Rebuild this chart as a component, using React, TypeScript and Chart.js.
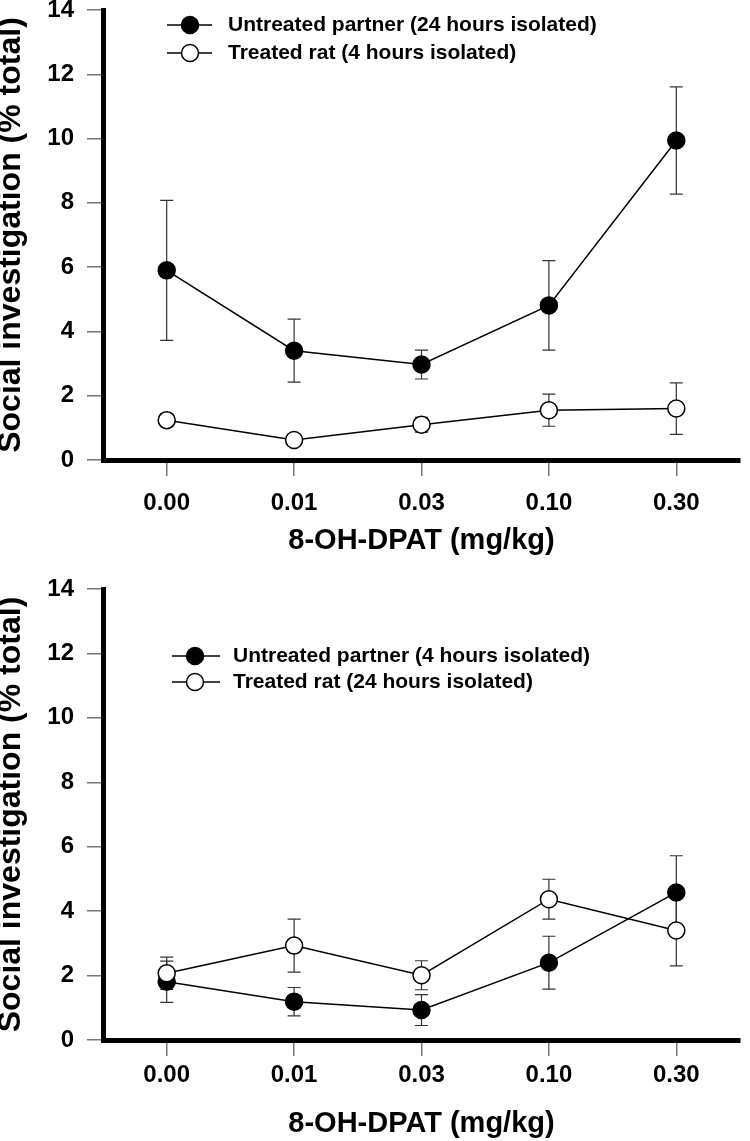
import React, { useEffect, useRef } from "react";
import { Chart, registerables } from "chart.js";

Chart.register(...registerables);

// ---------- data ----------
const doses = ["0.00", "0.01", "0.03", "0.10", "0.30"];
const yMin = 0;
const yMax = 14;
const yStep = 2;

const xTitle = "8-OH-DPAT (mg/kg)";
const yTitle = "Social investigation (% total)";

// top panel
const topUntreated = [5.9, 3.4, 2.97, 4.81, 9.94];
const topUntreatedErr = [2.18, 0.98, 0.45, 1.39, 1.67];
const topTreated = [1.24, 0.62, 1.1, 1.55, 1.6];
const topTreatedErr = [0.2, 0.15, 0.23, 0.5, 0.8];
const topLegend = ["Untreated partner (24 hours isolated)", "Treated rat (4 hours isolated)"];

// bottom panel
const botUntreated = [1.81, 1.19, 0.93, 2.4, 4.58];
const botUntreatedErr = [0.64, 0.44, 0.48, 0.82, 1.14];
const botTreated = [2.07, 2.93, 2.01, 4.37, 3.4];
const botTreatedErr = [0.5, 0.82, 0.45, 0.62, 1.1];
const botLegend = ["Untreated partner (4 hours isolated)", "Treated rat (24 hours isolated)"];

const FONT = "'Liberation Sans', Arial, Helvetica, sans-serif";

type PanelCfg = {
  height: number;
  padTop: number;
  axisHeight: number;
  tickPad: number;
  titlePadBottom: number;
  filled: number[];
  filledErr: number[];
  open: number[];
  openErr: number[];
  legend: string[];
  legendY: number;
  legendGap: number;
  legendLineX0: number;
  legendLineX1: number;
  legendMarkerX: number;
  legendTextX: number;
};

function Panel({ cfg }: { cfg: PanelCfg }) {
  const ref = useRef<HTMLCanvasElement>(null);
  useEffect(() => {
    if (!ref.current) return;
    const series = [
      { values: cfg.open, err: cfg.openErr },
      { values: cfg.filled, err: cfg.filledErr },
    ];
    const errorBars = {
      id: "errorBars",
      beforeDatasetsDraw(chart: any) {
        const { ctx } = chart;
        const x = chart.scales.x;
        const y = chart.scales.y;
        ctx.save();
        ctx.strokeStyle = "#333";
        ctx.lineWidth = 1.2;
        series.forEach((s) =>
          s.values.forEach((v, i) => {
            const px = x.getPixelForValue(i);
            const t = y.getPixelForValue(v + s.err[i]);
            const b = y.getPixelForValue(v - s.err[i]);
            ctx.beginPath();
            ctx.moveTo(px, t);
            ctx.lineTo(px, b);
            ctx.moveTo(px - 6.5, t);
            ctx.lineTo(px + 6.5, t);
            ctx.moveTo(px - 6.5, b);
            ctx.lineTo(px + 6.5, b);
            ctx.stroke();
          })
        );
        ctx.restore();
      },
    };
    const legendPlugin = {
      id: "customLegend",
      afterDraw(chart: any) {
        const { ctx } = chart;
        const fills = ["#000", "#fff"];
        ctx.save();
        cfg.legend.forEach((label, k) => {
          const yy = cfg.legendY + k * cfg.legendGap;
          ctx.strokeStyle = "#000";
          ctx.lineWidth = 1.5;
          ctx.beginPath();
          ctx.moveTo(cfg.legendLineX0, yy);
          ctx.lineTo(cfg.legendLineX1, yy);
          ctx.stroke();
          ctx.beginPath();
          ctx.arc(cfg.legendMarkerX, yy, 8.5, 0, Math.PI * 2);
          ctx.fillStyle = fills[k];
          ctx.fill();
          ctx.stroke();
          ctx.fillStyle = "#000";
          ctx.font = `bold 21px ${FONT}`;
          ctx.textAlign = "left";
          ctx.textBaseline = "middle";
          ctx.fillText(label, cfg.legendTextX, yy);
        });
        ctx.restore();
      },
    };
    const chart = new Chart(ref.current, {
      type: "line",
      data: {
        labels: doses,
        datasets: [
          {
            label: cfg.legend[1],
            data: cfg.open,
            borderColor: "#000",
            borderWidth: 1.5,
            pointRadius: 8.5,
            pointBackgroundColor: "#fff",
            pointBorderColor: "#000",
            pointBorderWidth: 1.5,
            tension: 0,
          },
          {
            label: cfg.legend[0],
            data: cfg.filled,
            borderColor: "#000",
            borderWidth: 1.5,
            pointRadius: 8.5,
            pointBackgroundColor: "#000",
            pointBorderColor: "#000",
            pointBorderWidth: 1.5,
            tension: 0,
          },
        ],
      },
      options: {
        animation: false,
        responsive: false,
        events: [],
        layout: { padding: { top: cfg.padTop, left: 0, right: 2, bottom: 0 } },
        plugins: {
          legend: { display: false },
          tooltip: { enabled: false },
        },
        scales: {
          x: {
            type: "category",
            offset: true,
            grid: {
              display: true,
              offset: false,
              drawOnChartArea: false,
              drawTicks: true,
              tickLength: 16,
              color: "#777",
              lineWidth: 1.5,
            },
            border: { display: true, color: "#000", width: 5 },
            ticks: {
              color: "#000",
              padding: cfg.tickPad,
              font: { family: FONT, size: 24, weight: "bold" },
              maxRotation: 0,
            },
            title: {
              display: true,
              text: xTitle,
              color: "#000",
              font: { family: FONT, size: 29, weight: "bold" },
              padding: { top: 0, bottom: cfg.titlePadBottom },
            },
            afterFit(scale: any) {
              scale.height = cfg.axisHeight;
              scale.paddingLeft = 0;
              scale.paddingRight = 0;
            },
          },
          y: {
            min: yMin,
            max: yMax,
            grid: {
              display: true,
              drawOnChartArea: false,
              drawTicks: true,
              tickLength: 16,
              color: "#777",
              lineWidth: 1.5,
            },
            border: { display: true, color: "#000", width: 5 },
            ticks: {
              stepSize: yStep,
              color: "#000",
              padding: 13,
              font: { family: FONT, size: 24, weight: "bold" },
            },
            title: {
              display: true,
              text: yTitle,
              color: "#000",
              font: { family: FONT, size: 32, weight: "bold", lineHeight: 0.7 },
              padding: { top: 0, bottom: 0 },
            },
            afterFit(scale: any) {
              scale.width = 103;
              scale.paddingTop = 0;
              scale.paddingBottom = 0;
            },
          },
        },
      } as any,
      plugins: [errorBars, legendPlugin],
    });
    return () => chart.destroy();
  }, [cfg]);
  return (
    <canvas
      ref={ref}
      width={750}
      height={cfg.height}
      style={{ display: "block", width: 750, height: cfg.height }}
    />
  );
}

const topCfg: PanelCfg = {
  height: 570,
  padTop: 10,
  axisHeight: 110,
  tickPad: 13,
  titlePadBottom: 12,
  filled: topUntreated,
  filledErr: topUntreatedErr,
  open: topTreated,
  openErr: topTreatedErr,
  legend: topLegend,
  legendY: 25,
  legendGap: 28,
  legendLineX0: 167,
  legendLineX1: 212,
  legendMarkerX: 190,
  legendTextX: 228,
};

const botCfg: PanelCfg = {
  height: 571,
  padTop: 19,
  axisHeight: 101,
  tickPad: 5,
  titlePadBottom: 0,
  filled: botUntreated,
  filledErr: botUntreatedErr,
  open: botTreated,
  openErr: botTreatedErr,
  legend: botLegend,
  legendY: 86,
  legendGap: 26,
  legendLineX0: 172,
  legendLineX1: 220,
  legendMarkerX: 195,
  legendTextX: 233,
};

export default function App() {
  return (
    <div
      style={{
        position: "absolute",
        left: 0,
        top: 0,
        width: 750,
        height: 1141,
        background: "#fff",
      }}
    >
      <Panel cfg={topCfg} />
      <Panel cfg={botCfg} />
    </div>
  );
}
